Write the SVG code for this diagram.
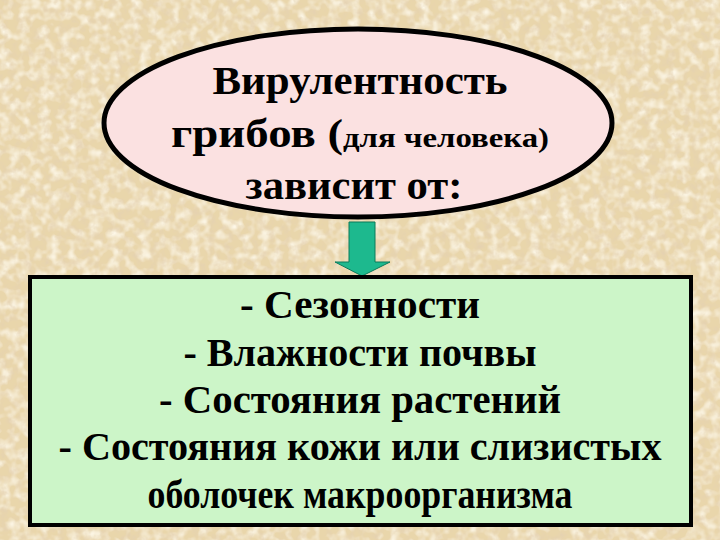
<svg xmlns="http://www.w3.org/2000/svg" width="720" height="540" viewBox="0 0 720 540">
<defs>
<filter id="paper" x="0" y="0" width="100%" height="100%">
<feTurbulence type="fractalNoise" baseFrequency="0.12" numOctaves="3" seed="7" result="n"/>
<feColorMatrix in="n" type="matrix" values="0 0 0 0 0.78  0 0 0 0 0.64  0 0 0 0 0.44  0 0 0 2.0 -0.95" result="dark"/>
<feTurbulence type="fractalNoise" baseFrequency="0.1" numOctaves="2" seed="21" result="n2"/>
<feColorMatrix in="n2" type="matrix" values="0 0 0 0 0.98  0 0 0 0 0.93  0 0 0 0 0.8  0 0 0 2.2 -0.9" result="light"/>
<feMerge><feMergeNode in="SourceGraphic"/><feMergeNode in="light"/><feMergeNode in="dark"/></feMerge>
</filter>
<style>
text{font-family:'Times New Roman','Liberation Serif',Times,serif;font-weight:bold;fill:#000;text-anchor:middle}
.big{font-size:40px}
.small{font-size:28px}
</style>
</defs>
<rect x="0" y="0" width="720" height="540" fill="#e9d6ab" filter="url(#paper)"/>
<g id="connectors">
<polygon points="349,222 375,222 375,262 390,262 362,276 335,262 349,262" fill="#1db98e" stroke="#0a7a5a" stroke-width="1"/>
</g>
<g id="top-node">
<ellipse cx="358" cy="123" rx="254" ry="94" fill="#fbe1e1" stroke="#000" stroke-width="5"/>
<text class="big" x="360" y="94" textLength="295" lengthAdjust="spacingAndGlyphs">Вирулентность</text>
<text class="big" x="360" y="147" textLength="378" lengthAdjust="spacingAndGlyphs">грибов (<tspan class="small">для человека)</tspan></text>
<text class="big" x="354" y="199" textLength="217" lengthAdjust="spacingAndGlyphs">зависит от:</text>
</g>
<g id="bottom-node">
<rect x="30" y="277" width="661" height="248" fill="#ccf5c8" stroke="#000" stroke-width="4"/>
<text class="big" x="360" y="318" textLength="240" lengthAdjust="spacingAndGlyphs">- Сезонности</text>
<text class="big" x="360" y="366" textLength="353" lengthAdjust="spacingAndGlyphs">- Влажности почвы</text>
<text class="big" x="360" y="413" textLength="402" lengthAdjust="spacingAndGlyphs">- Состояния растений</text>
<text class="big" x="360" y="460" textLength="603" lengthAdjust="spacingAndGlyphs">- Состояния кожи или слизистых</text>
<text class="big" x="360" y="508" textLength="425" lengthAdjust="spacingAndGlyphs">оболочек макроорганизма</text>
</g>
</svg>
